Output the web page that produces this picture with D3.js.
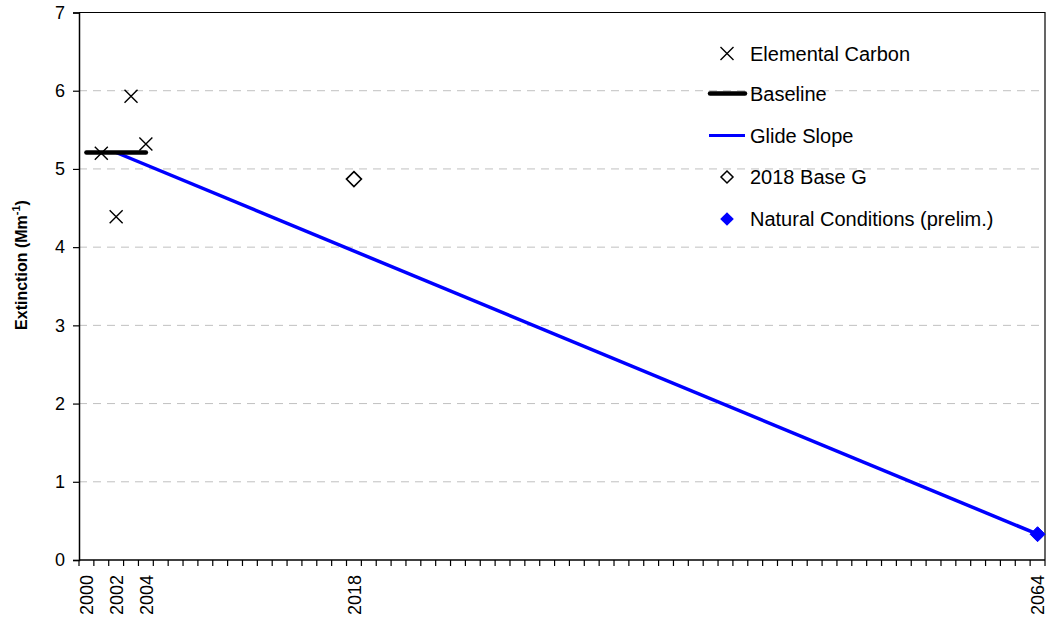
<!DOCTYPE html>
<html>
<head>
<meta charset="utf-8">
<script src="https://cdn.jsdelivr.net/npm/d3@7/dist/d3.min.js"></script>
<style>
  html, body { margin: 0; padding: 0; background: #fff; }
  svg { display: block; font-family: "Liberation Sans", Arial, sans-serif; }
</style>
</head>
<body>
<svg id="chart" width="1047" height="624"></svg>
<script>
// ---- data ----
const categories = d3.range(2000, 2065);            // one category per year
const tickLabels = ["2000", "2002", "2004", "2018", "2064"];
const yTicks = [0, 1, 2, 3, 4, 5, 6, 7];

const ecYears = [2001, 2002, 2003, 2004];
const ecValues = [5.20, 4.39, 5.93, 5.32];

const baselineYears = [2000, 2004];
const baselineValues = [5.21, 5.21];

const glideYears = [2002, 2064];
const glideValues = [5.21, 0.33];

const baseGYears = [2018];
const baseGValues = [4.87];

const naturalYears = [2064];
const naturalValues = [0.33];

const legendLabels = ["Elemental Carbon", "Baseline", "Glide Slope", "2018 Base G", "Natural Conditions (prelim.)"];

// ---- layout ----
const svg = d3.select("#chart");
const pLeft = 79, pRight = 1045, pTop = 12.5, pBottom = 560;

const x = d3.scaleBand().domain(categories).range([pLeft, pRight]).padding(0);
const xc = yr => x(yr) + x.bandwidth() / 2;
const y = d3.scaleLinear().domain([0, 7]).range([pBottom, pTop]);

// gridlines
svg.append("g").selectAll("line")
  .data(yTicks.filter(v => v > 0 && v < 7))
  .join("line")
  .attr("x1", pLeft).attr("x2", pRight)
  .attr("y1", d => y(d)).attr("y2", d => y(d))
  .attr("stroke", "#c0c0c0").attr("stroke-width", 1)
  .attr("stroke-dasharray", "8,6");

// frame (top and right)
svg.append("path")
  .attr("d", `M${pLeft},${y(7)}H${pRight}V${pBottom}`)
  .attr("fill", "none").attr("stroke", "#000").attr("stroke-width", 1.2);

// y axis
const yAxis = d3.axisLeft(y).tickValues(yTicks).tickSize(6).tickPadding(8).tickFormat(d3.format("d"));
const gy = svg.append("g").attr("transform", `translate(${pLeft},0)`).call(yAxis);
gy.select(".domain").attr("stroke", "#000").attr("stroke-width", 1.5);
gy.selectAll(".tick line").attr("stroke", "#000").attr("stroke-width", 1.2);
gy.selectAll(".tick text").attr("font-size", 18).attr("fill", "#000")
  .attr("font-family", "Liberation Sans, Arial, sans-serif");

// x axis: ticks between categories
const boundaries = categories.map(c => x(c)).concat([pRight]);
const gx = svg.append("g");
gx.append("line").attr("x1", pLeft).attr("x2", pRight).attr("y1", pBottom).attr("y2", pBottom)
  .attr("stroke", "#000").attr("stroke-width", 1.5);
gx.selectAll("line.tk").data(boundaries).join("line").attr("class", "tk")
  .attr("x1", d => d).attr("x2", d => d).attr("y1", pBottom).attr("y2", pBottom + 6)
  .attr("stroke", "#000").attr("stroke-width", 1.2);
gx.selectAll("text").data(tickLabels).join("text")
  .attr("transform", d => `translate(${xc(+d) + 6.8},${pBottom + 15}) rotate(-90)`)
  .attr("text-anchor", "end")
  .attr("font-size", 18).attr("fill", "#000")
  .text(d => d);

// y title
const yt = svg.append("text")
  .attr("transform", `translate(27,265) rotate(-90)`)
  .attr("text-anchor", "middle")
  .attr("font-size", 16).attr("font-weight", "bold").attr("fill", "#000");
yt.append("tspan").text("Extinction (Mm");
yt.append("tspan").attr("font-size", 11).attr("dy", -7).text("-1");
yt.append("tspan").attr("dy", 7).text(")");

// ---- series ----
const line = d3.line().x(d => xc(d[0])).y(d => y(d[1]));

// glide slope
svg.append("path").datum(d3.zip(glideYears, glideValues))
  .attr("d", line).attr("fill", "none").attr("stroke", "#0000ff").attr("stroke-width", 3.5);

// baseline
svg.append("path").datum(d3.zip(baselineYears, baselineValues))
  .attr("d", line).attr("fill", "none").attr("stroke", "#000").attr("stroke-width", 4.5)
  .attr("stroke-linecap", "round");

// crosses
const crossPath = (cx, cy, r) => `M${cx - r},${cy - r}L${cx + r},${cy + r}M${cx - r},${cy + r}L${cx + r},${cy - r}`;
svg.append("g").selectAll("path").data(d3.zip(ecYears, ecValues)).join("path")
  .attr("d", d => crossPath(xc(d[0]), y(d[1]), 6.5))
  .attr("stroke", "#000").attr("stroke-width", 1.4).attr("fill", "none");

const diamond = (cx, cy, r) => `M${cx},${cy - r}L${cx + r},${cy}L${cx},${cy + r}L${cx - r},${cy}Z`;

// 2018 base G
svg.append("g").selectAll("path").data(d3.zip(baseGYears, baseGValues)).join("path")
  .attr("d", d => diamond(xc(d[0]), y(d[1]), 7.5))
  .attr("stroke", "#000").attr("stroke-width", 1.6).attr("fill", "#fff");

// natural conditions
svg.append("g").selectAll("path").data(d3.zip(naturalYears, naturalValues)).join("path")
  .attr("d", d => diamond(xc(d[0]), y(d[1]), 7.5))
  .attr("fill", "#0000ff").attr("stroke", "#0000ff");

// ---- legend ----
const legY = [53.5, 93.5, 135.5, 177, 219];
const mx = 727, tx = 750;
const lg = svg.append("g");
lg.append("path").attr("d", crossPath(mx, legY[0], 6.5)).attr("stroke", "#000").attr("stroke-width", 1.4);
lg.append("line").attr("x1", 710).attr("x2", 745).attr("y1", legY[1]).attr("y2", legY[1])
  .attr("stroke", "#000").attr("stroke-width", 4.5).attr("stroke-linecap", "round");
lg.append("line").attr("x1", 709).attr("x2", 745).attr("y1", legY[2]).attr("y2", legY[2])
  .attr("stroke", "#0000ff").attr("stroke-width", 3);
lg.append("path").attr("d", diamond(mx, legY[3], 6)).attr("stroke", "#000").attr("stroke-width", 1.5).attr("fill", "#fff");
lg.append("path").attr("d", diamond(mx, legY[4], 6.8)).attr("fill", "#0000ff");
lg.selectAll("text").data(legendLabels).join("text")
  .attr("x", tx).attr("y", (d, i) => legY[i] + 7)
  .attr("font-size", 20).attr("fill", "#000")
  .text(d => d);
</script>
</body>
</html>
